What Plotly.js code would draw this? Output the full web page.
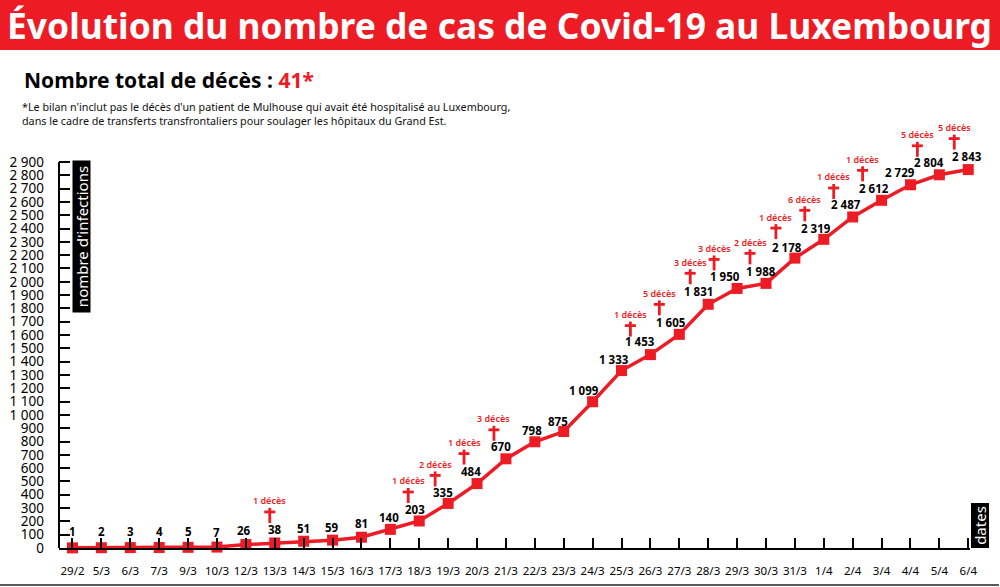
<!DOCTYPE html>
<html lang="fr">
<head>
<meta charset="utf-8">
<script src="https://cdn.plot.ly/plotly-3.0.1.min.js"></script>
<style>html,body{margin:0;padding:0;background:#fff;overflow:hidden}#chart{width:1000px;height:587px}</style>
</head>
<body>
<div id="chart"></div>
<script>
const dates = ['29/2','5/3','6/3','7/3','9/3','10/3','12/3','13/3','14/3','15/3','16/3','17/3','18/3','19/3','20/3','21/3','22/3','23/3','24/3','25/3','26/3','27/3','28/3','29/3','30/3','31/3','1/4','2/4','3/4','4/4','5/4','6/4'];
const cases = [1,2,3,4,5,7,26,38,51,59,81,140,203,335,484,670,798,875,1099,1333,1453,1605,1831,1950,1988,2178,2319,2487,2612,2729,2804,2843];
const yTickVals = [0,100,200,300,400,500,600,700,800,900,1000,1100,1200,1300,1400,1500,1600,1700,1800,1900,2000,2100,2200,2300,2400,2500,2600,2700,2800,2900];
const yTickText = ['0','100','200','300','400','500','600','700','800','900','1 000','1 100','1 200','1 300','1 400','1 500','1 600','1 700','1 800','1 900','2 000','2 100','2 200','2 300','2 400','2 500','2 600','2 700','2 800','2 900'];
const deathDates = ['13/3','18/3','19/3','20/3','21/3','26/3','27/3','28/3','29/3','30/3','31/3','1/4','2/4','3/4','5/4','6/4'];
const deathCounts = [1,1,2,1,3,1,5,3,3,2,1,6,1,1,5,5];

// Hand placement of the labels around the points, in pixels
const labelDx = [0,0,0,0,0,0,-2,0,0,-1,0,-1,-4,-5,-6,-5,-3,-6,-9,-8,-10,-8,-10,-12,-5,-8,-8,-7,-8,-10,-10,-1];
const labelUp = [16,16,16,16,16,15,14,13,13,13,14,12,11,11,12,12,11,10,11,11,13,12,13,12,12,11,11,12,12,12,12,13];
const crossDx = [-5,-11,-13,-13,-12,-20,-20,-18,-23,-16,-19,-19,-19,-19,-22,-14];
const crossUp = [20,18,17,19,18,18,19,20,18,19,19,18,18,19,18,20];

const RED = '#ED1C24';
const FONT = '"Noto Sans", sans-serif';
const plotL = 59, plotT = 120, plotW = 911, plotH = 428;
const yTop = 2900 * plotH / 386;
const px = v => (v - plotL) / plotW;
const py = v => 1 - (v - plotT) / plotH;
const fmt = n => String(n).replace(/\B(?=(\d{3})+$)/g, ' ');

const annotations = [];
cases.forEach((v, i) => annotations.push({
  x: dates[i], y: v, xref: 'x', yref: 'y', text: '<b>' + fmt(v) + '</b>', showarrow: false,
  xanchor: 'center', yanchor: 'middle', xshift: labelDx[i], yshift: labelUp[i],
  font: {family: FONT, size: 11.5, color: '#000'}
}));

const shapes = [
  {type: 'rect', xref: 'paper', yref: 'paper', x0: px(0), x1: px(1000), y0: py(50), y1: py(0), fillcolor: RED, line: {width: 0}, layer: 'below'},
  {type: 'line', xref: 'paper', yref: 'paper', x0: px(0), x1: px(999), y0: py(585), y1: py(585), line: {color: '#222', width: 1.5}},
  {type: 'line', xref: 'paper', yref: 'y', x0: 0, x1: 0, y0: 0, y1: 2900, line: {color: '#000', width: 2}}
];

deathDates.forEach((d, k) => {
  const i = dates.indexOf(d), dx = crossDx[k], up = crossUp[k];
  const common = {type: 'line', xref: 'x', yref: 'y', xsizemode: 'pixel', ysizemode: 'pixel',
    xanchor: i, yanchor: cases[i], line: {color: RED, width: 2.8}};
  shapes.push(Object.assign({}, common, {x0: dx, x1: dx, y0: up, y1: up + 15}));
  shapes.push(Object.assign({}, common, {x0: dx - 5.5, x1: dx + 5.5, y0: up + 11, y1: up + 11}));
  annotations.push({
    x: d, y: cases[i], xref: 'x', yref: 'y', text: deathCounts[k] + ' décès', showarrow: false,
    xanchor: 'center', yanchor: 'middle', xshift: dx, yshift: up + 22,
    font: {family: FONT, size: 9, color: RED, weight: 600}
  });
});

annotations.push(
  {xref: 'paper', yref: 'paper', x: px(22), y: py(80), xanchor: 'left', yanchor: 'middle', showarrow: false, align: 'left',
   text: '<b>Nombre total de décès : <span style="color:' + RED + '">41*</span></b>',
   font: {family: FONT, size: 21, color: '#000'}},
  {xref: 'paper', yref: 'paper', x: px(20), y: py(114), xanchor: 'left', yanchor: 'middle', showarrow: false, align: 'left',
   text: "*Le bilan n'inclut pas le décès d'un patient de Mulhouse qui avait été hospitalisé au Luxembourg,<br>dans le cadre de transferts transfrontaliers pour soulager les hôpitaux du Grand Est.",
   font: {family: FONT, size: 10.75, color: '#111'}},
  {xref: 'paper', yref: 'paper', x: px(81.5), y: py(236.5), xanchor: 'center', yanchor: 'middle', showarrow: false, textangle: -90,
   text: "nombre d'infections", width: 151, height: 17, bgcolor: '#000', borderpad: 0,
   font: {family: FONT, size: 15, color: '#fff'}},
  {xref: 'paper', yref: 'paper', x: px(979.5), y: py(526), xanchor: 'center', yanchor: 'middle', showarrow: false, textangle: -90,
   text: 'dates', width: 44, height: 17, bgcolor: '#000', borderpad: 0,
   font: {family: FONT, size: 15, color: '#fff'}}
);

const data = [{
  type: 'scatter', mode: 'lines+markers', x: dates, y: cases, cliponaxis: false,
  line: {color: RED, width: 3.5},
  marker: {symbol: 'square', size: 11, color: RED},
  hoverinfo: 'x+y'
}];

const layout = {
  width: 1000, height: 587, showlegend: false,
  paper_bgcolor: '#fff', plot_bgcolor: '#fff',
  margin: {l: plotL, r: 1000 - plotL - plotW, t: plotT, b: 587 - plotT - plotH, pad: 0},
  title: {text: '<b>Évolution du nombre de cas de Covid-19 au Luxembourg</b>',
    x: 0.4995, xref: 'container', xanchor: 'center', y: 1 - 27 / 587, yref: 'container', yanchor: 'middle', automargin: false,
    font: {family: FONT, size: 35.4, color: '#fff'}},
  xaxis: {
    type: 'category', categoryorder: 'array', categoryarray: dates,
    range: [-0.467, 31.06], tickmode: 'array', tickvals: dates, ticktext: dates,
    showgrid: false, zeroline: false, showline: true, linecolor: '#000', linewidth: 1.5,
    ticks: 'inside', ticklen: 10, tickwidth: 1.5, tickcolor: '#000', tickangle: 0,
    ticklabelstandoff: 11, tickfont: {family: FONT, size: 11.5, color: '#000'}
  },
  yaxis: {
    range: [0, yTop], tickmode: 'array', tickvals: yTickVals, ticktext: yTickText,
    showgrid: false, zeroline: false, showline: false,
    ticks: 'inside', ticklen: 11, tickwidth: 1.5, tickcolor: '#000',
    ticklabelstandoff: 14, tickfont: {family: FONT, size: 13.5, color: '#000'}
  },
  shapes: shapes, annotations: annotations
};

Plotly.newPlot('chart', data, layout, {displayModeBar: false, responsive: false});
</script>
</body>
</html>
